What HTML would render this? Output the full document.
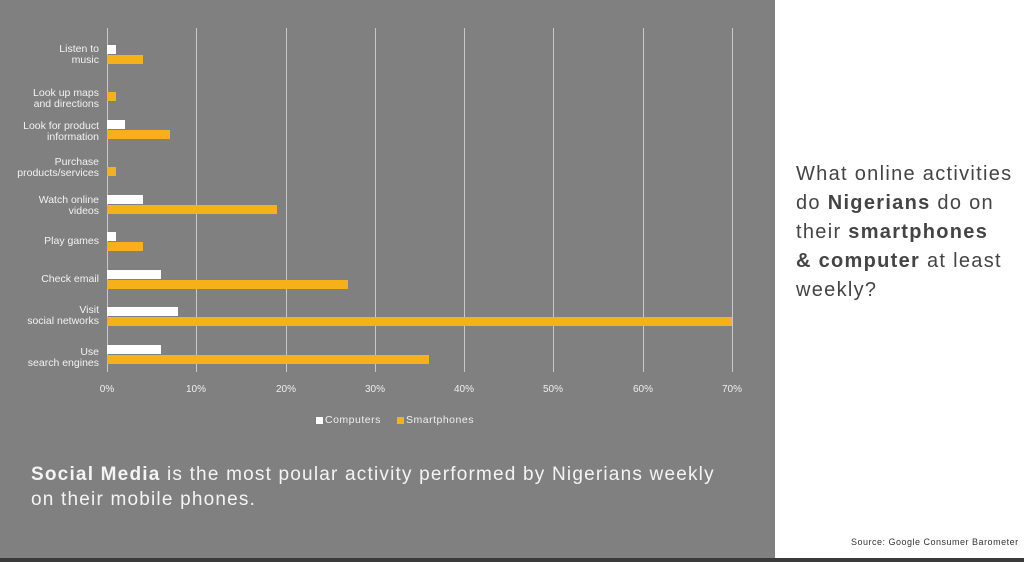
<!DOCTYPE html>
<html><head><style>
*{margin:0;padding:0}
body{width:1024px;height:562px;position:relative;overflow:hidden;background:#fff;font-family:"Liberation Sans",sans-serif}
.p{position:absolute}
.g{position:absolute;top:28px;height:344px;width:1px;background:#c8c8c8}
.lab{position:absolute;right:925px;width:110px;text-align:right;color:#f2f2f2;font-size:10.5px;line-height:11px}
.c{position:absolute;left:107px;height:9px;background:#fff}
.s{position:absolute;left:107px;height:9px;background:#f6b01a}
.t{position:absolute;top:384px;color:#eee;font-size:10px;width:40px;text-align:center}
</style></head><body>
<div class="p" style="left:0;top:0;width:775px;height:558px;background:#808080"></div>
<div class="p" style="left:0;top:558px;width:1024px;height:4px;background:#3a3a3a"></div>
<div class="g" style="left:107px"></div><div class="g" style="left:196px"></div><div class="g" style="left:286px"></div><div class="g" style="left:375px"></div><div class="g" style="left:464px"></div><div class="g" style="left:553px"></div><div class="g" style="left:643px"></div><div class="g" style="left:732px"></div>

<div class="lab" style="top:44px">Listen to<br>music</div>
<div class="lab" style="top:88px">Look up maps<br>and directions</div>
<div class="lab" style="top:121px">Look for product<br>information</div>
<div class="lab" style="top:157px">Purchase<br>products/services</div>
<div class="lab" style="top:195px">Watch online<br>videos</div>
<div class="lab" style="top:236px">Play games</div>
<div class="lab" style="top:274px">Check email</div>
<div class="lab" style="top:305px">Visit<br>social networks</div>
<div class="lab" style="top:347px">Use<br>search engines</div>

<div class="c" style="top:45px;width:9px"></div><div class="s" style="top:55px;width:36px"></div>
<div class="s" style="top:92px;width:9px"></div>
<div class="c" style="top:120px;width:18px"></div><div class="s" style="top:130px;width:63px"></div>
<div class="s" style="top:167px;width:9px"></div>
<div class="c" style="top:195px;width:36px"></div><div class="s" style="top:205px;width:170px"></div>
<div class="c" style="top:232px;width:9px"></div><div class="s" style="top:242px;width:36px"></div>
<div class="c" style="top:270px;width:54px"></div><div class="s" style="top:280px;width:241px"></div>
<div class="c" style="top:307px;width:71px"></div><div class="s" style="top:317px;width:625px"></div>
<div class="c" style="top:345px;width:54px"></div><div class="s" style="top:355px;width:322px"></div>

<div class="t" style="left:87px">0%</div><div class="t" style="left:176px">10%</div><div class="t" style="left:266px">20%</div><div class="t" style="left:355px">30%</div><div class="t" style="left:444px">40%</div><div class="t" style="left:533px">50%</div><div class="t" style="left:623px">60%</div><div class="t" style="left:712px">70%</div>

<div class="p" style="left:316px;top:417px;width:7px;height:7px;background:#fff"></div>
<div class="p" style="left:325px;top:414px;color:#eee;font-size:10.5px;letter-spacing:0.5px">Computers</div>
<div class="p" style="left:397px;top:417px;width:7px;height:7px;background:#f6b01a"></div>
<div class="p" style="left:406px;top:414px;color:#eee;font-size:10.5px;letter-spacing:0.5px">Smartphones</div>

<div class="p" style="left:31px;top:462px;color:#f4f4f4;font-size:19px;line-height:25px;letter-spacing:1.2px;white-space:nowrap"><b>Social Media</b> is the most poular activity performed by Nigerians weekly<br>on their mobile phones.</div>

<div class="p" style="left:796px;top:160px;color:#444;font-size:20px;line-height:29px;letter-spacing:1.3px;white-space:nowrap">What online activities<br>do <b>Nigerians</b> do on<br>their <b>smartphones</b><br><b>&amp; computer</b> at least<br>weekly?</div>
<div class="p" style="left:851px;top:537px;color:#333;font-size:9px;letter-spacing:0.5px">Source: Google Consumer Barometer</div>
</body></html>
